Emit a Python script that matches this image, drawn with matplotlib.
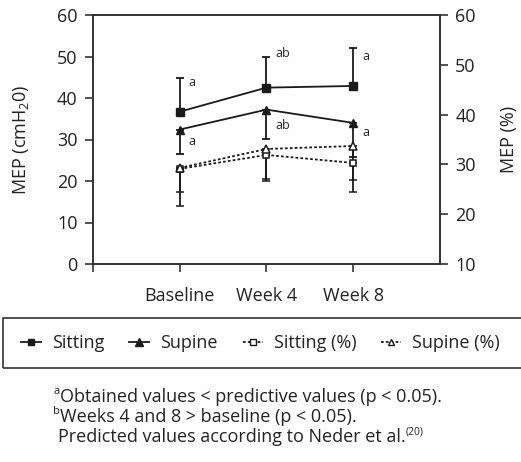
import matplotlib
matplotlib.use("Agg")
import matplotlib.pyplot as plt
from matplotlib.lines import Line2D
from matplotlib.patches import Rectangle

plt.rcParams['font.family'] = ['Open Sans', 'DejaVu Sans']
plt.rcParams['mathtext.fontset'] = 'custom'
plt.rcParams['mathtext.rm'] = 'Open Sans'
plt.rcParams['mathtext.it'] = 'Open Sans'

categories = ["Baseline", "Week 4", "Week 8"]
sitting = [36.7, 42.5, 42.9]
sitting_err_up = [8.1, 7.4, 9.1]
supine = [32.4, 37.2, 34.0]
supine_err_down = [5.8, 7.1, 8.3]
sitting_pct = [29.1, 31.9, 30.3]
sitting_pct_err_down = [7.5, 5.3, 5.9]
supine_pct = [29.3, 33.1, 33.7]
supine_pct_err_down = [4.9, 6.1, 6.9]
sitting_notes = ["a", "ab", "a"]
supine_notes = ["a", "ab", "a"]
footnote_marks = ["a", "b", ""]
footnotes = ["Obtained values < predictive values (p < 0.05).",
             "Weeks 4 and 8 > baseline (p < 0.05).",
             "Predicted values according to Neder et al."]
footnote_ref = "(20)"

TXT = '#222222'
LC = '#1a1a1a'
FS = 13

fig = plt.figure(figsize=(5.21, 4.62), dpi=100)
ax = fig.add_axes([93/521, 1-264/462, (440-93)/521, (264-15)/462])
ax2 = ax.twinx()

x = list(range(len(categories)))
DOT = (0, (1.5, 1.2))

ax.errorbar(x, sitting, yerr=[[0]*3, sitting_err_up], color=LC, lw=1.3,
            marker='s', ms=5.5, capsize=3, elinewidth=1.3, capthick=1.3, zorder=3)
ax.errorbar(x, supine, yerr=[supine_err_down, [0]*3], color=LC, lw=1.3,
            marker='^', ms=6, capsize=3, elinewidth=1.3, capthick=1.3, zorder=3)
ax2.errorbar(x, sitting_pct, yerr=[sitting_pct_err_down, [0]*3], color=LC, lw=1.3,
             ls=DOT, marker='s', ms=5, mfc='white', mec=LC, mew=1.1,
             capsize=3, elinewidth=1.3, capthick=1.3, zorder=3)
ax2.errorbar(x, supine_pct, yerr=[supine_pct_err_down, [0]*3], color=LC, lw=1.3,
             ls=DOT, marker='^', ms=5.5, mfc='white', mec=LC, mew=1.1,
             capsize=3, elinewidth=1.3, capthick=1.3, zorder=3)

# annotations
sit_note_y = [43.8, 50.8, 50.1]
sup_note_y = [29.4, 33.3, 31.8]
for i in range(3):
    ax.text(i + 0.1, sit_note_y[i], sitting_notes[i], fontsize=9, color=TXT,
            ha='left', va='center')
    ax.text(i + 0.1, sup_note_y[i], supine_notes[i], fontsize=9, color=TXT,
            ha='left', va='center')

ax.set_xlim(-1, 3)
ax.set_ylim(0, 60)
ax2.set_ylim(10, 60)
ax.set_xticks([-1, 0, 1, 2])
ax.set_xticklabels([""] + categories)
ax.set_yticks(range(0, 61, 10))
ax2.set_yticks(range(10, 61, 10))

for a in (ax, ax2):
    for s in a.spines.values():
        s.set_color('#333333')
        s.set_linewidth(1.2)
    a.tick_params(direction='out', length=6, width=1.2, color='#333333',
                  labelsize=FS, labelcolor=TXT, pad=5)
ax.tick_params(axis='x', pad=10.5)

ax.set_ylabel(r"MEP (cmH$_2$0)", fontsize=FS, color=TXT, labelpad=19)
ax2.set_ylabel("MEP (%)", fontsize=FS, color=TXT, labelpad=17)

handles = [
    Line2D([], [], color=LC, lw=1.3, marker='s', ms=5),
    Line2D([], [], color=LC, lw=1.3, marker='^', ms=5.5),
    Line2D([], [], color=LC, lw=1.3, ls=DOT, marker='s', ms=4.5, mfc='white', mew=1),
    Line2D([], [], color=LC, lw=1.3, ls=DOT, marker='^', ms=5, mfc='white', mew=1),
]
labels = ["Sitting", "Supine", "Sitting (%)", "Supine (%)"]
leg = fig.legend(handles, labels, loc='center', bbox_to_anchor=(0.5, 1-343/462),
                 ncol=4, fontsize=FS, frameon=False,
                 handlelength=1.1, handletextpad=0.6,
                 columnspacing=1.4, borderpad=0.55)
for t in leg.get_texts():
    t.set_color(TXT)
fig.patches.append(Rectangle((3/521, 1-368/462), 530/521, 50/462,
                             transform=fig.transFigure, fill=False,
                             edgecolor='#333333', lw=1.2))

last = None
for mark, line, yy in zip(footnote_marks, footnotes, [397, 417, 437]):
    xx = 60 if mark else 58
    t = fig.text(xx/521, 1-yy/462, line, fontsize=FS, color=TXT, ha='left', va='center')
    if mark:
        fig.text(60/521, 1-(yy-5)/462, mark, fontsize=8, color=TXT, ha='right', va='center')
    else:
        last = t
fig.canvas.draw()
ref = fig.text(0, 0, footnote_ref, fontsize=7.5, color=TXT, ha='left', va='center',
               transform=None)
renderer = fig.canvas.get_renderer()
bb = last.get_window_extent(renderer)
ref.set_position((bb.x1, bb.y1 - 4))

fig.savefig("out.png", dpi=100)
